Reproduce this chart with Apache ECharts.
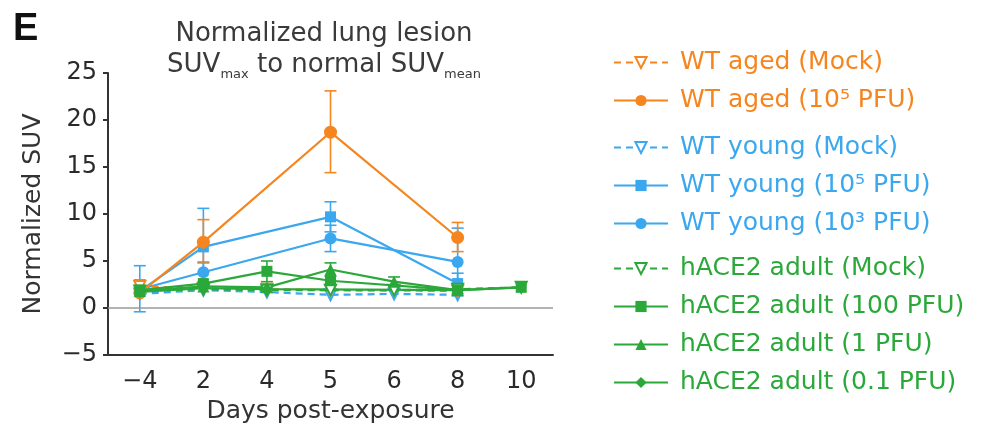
<!DOCTYPE html>
<html>
<head>
<meta charset="utf-8">
<script src="https://cdn.jsdelivr.net/npm/echarts@6/dist/echarts.min.js"></script>
<style>
html,body{margin:0;padding:0;background:#ffffff;}
#chart{width:988px;height:431px;}
</style>
</head>
<body>
<div id="chart"></div>
<script>
// ---- data ----
const days = ['\u22124', '2', '4', '5', '6', '8', '10'];
const yTicks = [-5, 0, 5, 10, 15, 20, 25];

const names = [
  'WT aged (Mock)', 'WT aged (10\u2075 PFU)',
  'WT young (Mock)', 'WT young (10\u2075 PFU)', 'WT young (10\u00b3 PFU)',
  'hACE2 adult (Mock)', 'hACE2 adult (100 PFU)', 'hACE2 adult (1 PFU)', 'hACE2 adult (0.1 PFU)'
];

const wtAgedMock   = [2.3, 2.1, 2.0, 1.9, null, 1.8, null];
const wtAged5      = [1.6, 7.0, null, 18.7, null, 7.5, null];
const wtYoungMock  = [1.5, 1.9, 1.7, 1.4, 1.5, 1.4, null];
const wtYoung5     = [1.8, 6.5, null, 9.7, null, 2.6, null];
const wtYoung3     = [2.0, 3.8, null, 7.4, null, 4.9, null];
const hMock        = [1.8, 2.0, 1.9, 1.9, 1.9, 2.0, 2.2];
const h100         = [1.9, 2.6, 3.9, 2.9, null, 1.9, 2.2];
const h1           = [1.8, 2.3, 2.2, 4.1, 2.8, 1.9, null];
const h01          = [1.7, 2.1, 2.0, null, null, 1.9, 2.2];

// error bars: [category index, low, high]
const wtAgedMockErr = [[0, 1.6, 3.0]];
const wtAged5Err    = [[1, 4.9, 9.4], [3, 14.4, 23.1], [5, 6.0, 9.1]];
const wtYoung5Err   = [[1, 2.4, 10.6], [3, 8.1, 11.3], [5, 1.5, 3.7]];
const wtYoung3Err   = [[0, -0.4, 4.5], [1, 2.8, 4.8], [3, 6.0, 8.8], [5, 1.3, 8.5]];
const h100Err       = [[2, 2.8, 5.0]];
const h1Err         = [[3, 3.4, 4.8], [4, 2.3, 3.3]];

// ---- styles ----
const ORANGE = '#F5851F', BLUE = '#3BA7EE', GREEN = '#2BA83A';
const FONT = 'DejaVu Sans';

function lineSeries(name, data, color, opts) {
  const mock = opts.mock;
  return {
    name: name, type: 'line', data: data, connectNulls: true,
    symbol: opts.symbol, symbolSize: opts.size, symbolRotate: opts.rotate || 0,
    lineStyle: { color: color, width: 2.2, type: mock ? [7, 5] : 'solid' },
    itemStyle: mock ? { color: '#ffffff', borderColor: color, borderWidth: 2 } : { color: color },
    z: opts.z || 3,
    emphasis: { disabled: true }
  };
}

function errSeries(data, color) {
  return {
    type: 'custom', data: data, silent: true, z: 2,
    encode: { x: 0, y: [1, 2] },
    renderItem: function (params, api) {
      const x = api.value(0);
      const lo = api.coord([x, api.value(1)]);
      const hi = api.coord([x, api.value(2)]);
      const w = 6;
      const st = { stroke: color, lineWidth: 1.6 };
      return {
        type: 'group', children: [
          { type: 'line', shape: { x1: lo[0], y1: lo[1], x2: hi[0], y2: hi[1] }, style: st },
          { type: 'line', shape: { x1: hi[0] - w, y1: hi[1], x2: hi[0] + w, y2: hi[1] }, style: st },
          { type: 'line', shape: { x1: lo[0] - w, y1: lo[1], x2: lo[0] + w, y2: lo[1] }, style: st }
        ]
      };
    }
  };
}

const series = [
  errSeries(wtYoung5Err, BLUE),
  errSeries(wtYoung3Err, BLUE),
  errSeries(wtAgedMockErr, ORANGE),
  errSeries(wtAged5Err, ORANGE),
  errSeries(h100Err, GREEN),
  errSeries(h1Err, GREEN),
  lineSeries(names[2], wtYoungMock, BLUE, { mock: true, symbol: 'triangle', size: 11, rotate: 180 }),
  lineSeries(names[3], wtYoung5, BLUE, { symbol: 'rect', size: 11 }),
  lineSeries(names[4], wtYoung3, BLUE, { symbol: 'circle', size: 12 }),
  lineSeries(names[0], wtAgedMock, ORANGE, { mock: true, symbol: 'triangle', size: 11, rotate: 180 }),
  lineSeries(names[1], wtAged5, ORANGE, { symbol: 'circle', size: 13, z: 4 }),
  lineSeries(names[5], hMock, GREEN, { mock: true, symbol: 'triangle', size: 11, rotate: 180, z: 5 }),
  lineSeries(names[6], h100, GREEN, { symbol: 'rect', size: 11, z: 5 }),
  lineSeries(names[7], h1, GREEN, { symbol: 'triangle', size: 12, z: 5 }),
  lineSeries(names[8], h01, GREEN, { symbol: 'diamond', size: 11, z: 5 })
];

// zero reference line
series[6].markLine = {
  silent: true, symbol: 'none', label: { show: false },
  lineStyle: { color: '#9a9a9a', width: 1.5, type: 'solid' },
  data: [{ yAxis: 0 }]
};

function legendOf(top, items, color) {
  return {
    orient: 'vertical', left: 613, top: top, padding: 0,
    itemWidth: 54, itemHeight: 14, itemGap: 13,
    selectedMode: false,
    textStyle: { fontFamily: FONT, fontSize: 25, lineHeight: 24, color: color, padding: [0, 0, 0, 7] },
    data: items.map(n => ({ name: n, textStyle: { color: color } }))
  };
}

const chart = echarts.init(document.getElementById('chart'), null, { renderer: 'canvas' });
chart.setOption({
  backgroundColor: '#ffffff',
  animation: false,
  grid: { left: 108, right: 435, top: 73, bottom: 76 },
  xAxis: {
    type: 'category', data: days, boundaryGap: true,
    name: 'Days post-exposure', nameLocation: 'middle', nameGap: 44,
    nameTextStyle: { fontFamily: FONT, fontSize: 25, color: '#333333', lineHeight: 25 },
    axisLine: { onZero: false, lineStyle: { color: '#333333', width: 2 } },
    axisTick: { alignWithLabel: true, length: 6, lineStyle: { color: '#333333', width: 2 } },
    axisLabel: { fontFamily: FONT, fontSize: 24, lineHeight: 24, color: '#2a2a2a', margin: 15 },
    splitLine: { show: false }
  },
  yAxis: {
    type: 'value', min: -5, max: 25, interval: 5,
    name: 'Normalized SUV', nameLocation: 'middle', nameGap: 62,
    nameTextStyle: { fontFamily: FONT, fontSize: 25, color: '#333333', lineHeight: 25 },
    axisLine: { show: true, lineStyle: { color: '#333333', width: 2 } },
    axisTick: { show: true, length: 5, lineStyle: { color: '#333333', width: 2 } },
    axisLabel: {
      fontFamily: FONT, fontSize: 24, color: '#2a2a2a', margin: 11,
      formatter: v => (yTicks.indexOf(v) >= 0 ? (v < 0 ? '\u2212' + Math.abs(v) : String(v)) : '')
    },
    splitLine: { show: false }
  },
  legend: [
    legendOf(50, names.slice(0, 2), ORANGE),
    legendOf(135, names.slice(2, 5), BLUE),
    legendOf(256, names.slice(5, 9), GREEN)
  ],
  graphic: [
    {
      type: 'text', left: 13, top: 11, silent: true,
      style: { text: 'E', font: 'bold 38px "Liberation Sans", Arial, sans-serif', fill: '#111111' }
    },
    {
      type: 'text', x: 324, y: 19, silent: true,
      style: {
        text: '{a|Normalized lung lesion}\n{a|SUV}{s|max}{a| to normal SUV}{s|mean}',
        align: 'center', verticalAlign: 'top',
        fill: '#3a3a3a',
        rich: {
          a: { fontFamily: FONT, fontSize: 26, lineHeight: 31, fill: '#3a3a3a' },
          s: { fontFamily: FONT, fontSize: 13, lineHeight: 14, verticalAlign: 'bottom', fill: '#3a3a3a' }
        }
      }
    }
  ],
  series: series
});
</script>
</body>
</html>
